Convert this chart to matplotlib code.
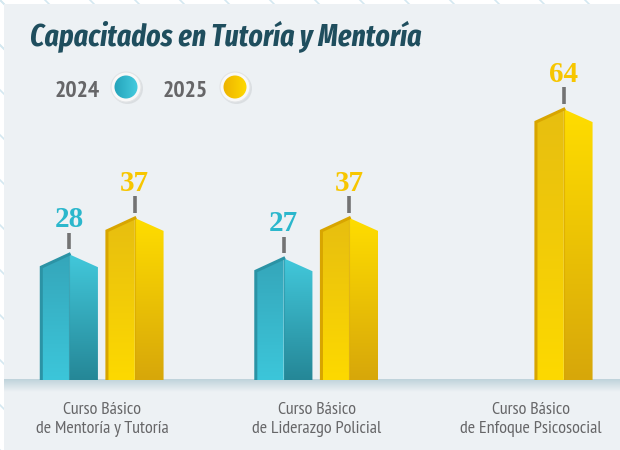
import numpy as np
import matplotlib
matplotlib.use('Agg')
import matplotlib.pyplot as plt
from matplotlib.patches import Polygon, Circle, Rectangle
from matplotlib.colors import LinearSegmentedColormap

# ---------------------------------------------------------
# data
# ---------------------------------------------------------
categories = ['Curso Básico\nde Mentoría y Tutoría',
              'Curso Básico\nde Liderazgo Policial',
              'Curso Básico\nde Enfoque Psicosocial']
values_2024 = [28, 27, None]
values_2025 = [37, 37, 64]
years = ['2024', '2025']

title = 'Capacitados en Tutoría y Mentoría'

NARROW = ['PT Sans Narrow', 'DejaVu Sans']
TITLE_FONT = ['Fira Sans Extra Condensed', 'Fira Sans Condensed', 'DejaVu Sans']
SERIF = ['Liberation Serif', 'DejaVu Serif']

BG = '#EDF1F4'
TEAL = '#2BB7CC'
GOLD = '#F7C600'
GRAY_TXT = '#666668'

# ---------------------------------------------------------
# figure / background (pixel coordinates)
# ---------------------------------------------------------
fig = plt.figure(figsize=(6.2, 4.5), dpi=100)
fig.patch.set_facecolor('white')

bg = fig.add_axes([0, 0, 1, 1], zorder=0)
bg.set_xlim(0, 620)
bg.set_ylim(450, 0)
bg.axis('off')

# faint decorative strokes behind the panel
for k in range(-4, 16):
    bg.plot([k * 45, k * 45 + 60], [0, 60], color='#D4E8F0', lw=1.2, zorder=0)
    bg.plot([0, 40], [k * 45, k * 45 + 40], color='#D4E8F0', lw=1.2, zorder=0)
bg.add_patch(Rectangle((4, 4), 620, 450, facecolor=BG, edgecolor='none', zorder=1))

# baseline band
band = np.linspace(0, 1, 64).reshape(-1, 1)
band_cmap = LinearSegmentedColormap.from_list('band', ['#BFD3DB', BG])
bg.imshow(band, cmap=band_cmap, extent=(4, 620, 392, 379), origin='upper',
          aspect='auto', zorder=2)
bg.set_xlim(0, 620)
bg.set_ylim(450, 0)

# title, fitted to the reference width (x 30 -> 422)
t = bg.text(30, 46, title, fontsize=22, fontweight='bold', fontstyle='italic',
            family=TITLE_FONT, color='#1F4E5E', ha='left', va='baseline', zorder=5)
r = fig.canvas.get_renderer()
w = t.get_window_extent(r).width
t.set_fontsize(min(22 * 392 / w, 31))


def grad_fill(axis, patch, c1, c2, extent, horizontal=False, z=3):
    axis.add_patch(patch)
    cmap = LinearSegmentedColormap.from_list('g', [c1, c2])
    if horizontal:
        g = np.linspace(0, 1, 128).reshape(1, -1)
    else:
        g = np.linspace(0, 1, 128).reshape(-1, 1)
    im = axis.imshow(g, cmap=cmap, extent=extent, origin='lower',
                     aspect='auto', zorder=z, interpolation='bicubic')
    im.set_clip_path(patch)


# legend
leg_items = [(years[0], 55, 126, '#24A3BA', '#46CCDF'),
             (years[1], 163, 235, '#EDB200', '#FFDA00')]
for label, tx, cx, c1, c2 in leg_items:
    bg.text(tx, 97, label, fontsize=17, fontweight='bold', family=NARROW,
            color=GRAY_TXT, ha='left', va='baseline', zorder=5)
    bg.add_patch(Circle((cx + 1.5, 88.5), 15.5, facecolor='#C9CDD0', alpha=0.5,
                        edgecolor='none', zorder=3))
    bg.add_patch(Circle((cx, 87), 15, facecolor='#F8F8F8', edgecolor='#E2E4E6',
                        lw=0.8, zorder=4))
    circ = Circle((cx, 87), 11.5, facecolor='none', edgecolor='none')
    grad_fill(bg, circ, c1, c2, (cx - 12, cx + 12, 75, 99), horizontal=True, z=5)
bg.set_xlim(0, 620)
bg.set_ylim(450, 0)

# ---------------------------------------------------------
# bars (data coordinates)
# ---------------------------------------------------------
ax = fig.add_axes([0, 70 / 450, 1, 322.4 / 450], zorder=2)
ax.patch.set_alpha(0)
x = np.arange(len(categories))
width = 0.268
offset = 0.153
peak = 3.2

styles = {
    '2024': dict(left=('#3CC6DA', '#35A6BA'), right=('#258797', '#42C8DB'),
                 edge='#2B93A5', txt=TEAL),
    '2025': dict(left=('#FDD900', '#E7BE10'), right=('#D7A70A', '#FFDD00'),
                 edge='#D8A500', txt=GOLD),
}

for year, vals, sign in [('2024', values_2024, -1), ('2025', values_2025, 1)]:
    st = styles[year]
    for xi, v in zip(x, vals):
        if v is None:
            continue
        c = xi + sign * offset
        l, r = c - width / 2, c + width / 2
        left = Polygon([(l, 0), (c, 0), (c, v + peak), (l, v)], closed=True,
                       facecolor='none', edgecolor='none')
        grad_fill(ax, left, st['left'][0], st['left'][1], (l, c, 0, v + peak))
        right = Polygon([(c, 0), (r, 0), (r, v), (c, v + peak)], closed=True,
                        facecolor='none', edgecolor='none')
        grad_fill(ax, right, st['right'][0], st['right'][1], (c, r, 0, v + peak))
        ax.plot([l + 0.004, l + 0.004, c], [0, v, v + peak], color=st['edge'],
                lw=2.2, zorder=4, solid_joinstyle='miter')
        ax.plot([c, c], [0, v + peak], color=st['edge'], lw=0.8, alpha=0.6, zorder=4)
        ax.plot([c, c], [v + peak + 1.3, v + peak + 5.4], color='#737373',
                lw=2.6, solid_capstyle='butt', zorder=4)
        ax.text(c, v + peak + 6.7, str(v), fontsize=21, fontweight='bold',
                family=SERIF, color=st['txt'], ha='center', va='baseline', zorder=5)

ax.set_xlim(-102 / 214.5, 518 / 214.5)
ax.set_ylim(0, 80)
ax.set_xticks(x, categories)
ax.set_yticks([])
for s in ax.spines.values():
    s.set_visible(False)
ax.tick_params(axis='x', length=0, pad=16, labelsize=13, labelcolor=GRAY_TXT)
for tl in ax.get_xticklabels():
    tl.set_family(NARROW)
    tl.set_linespacing(1.25)

fig.savefig('out.png', dpi=100, facecolor=fig.get_facecolor())
